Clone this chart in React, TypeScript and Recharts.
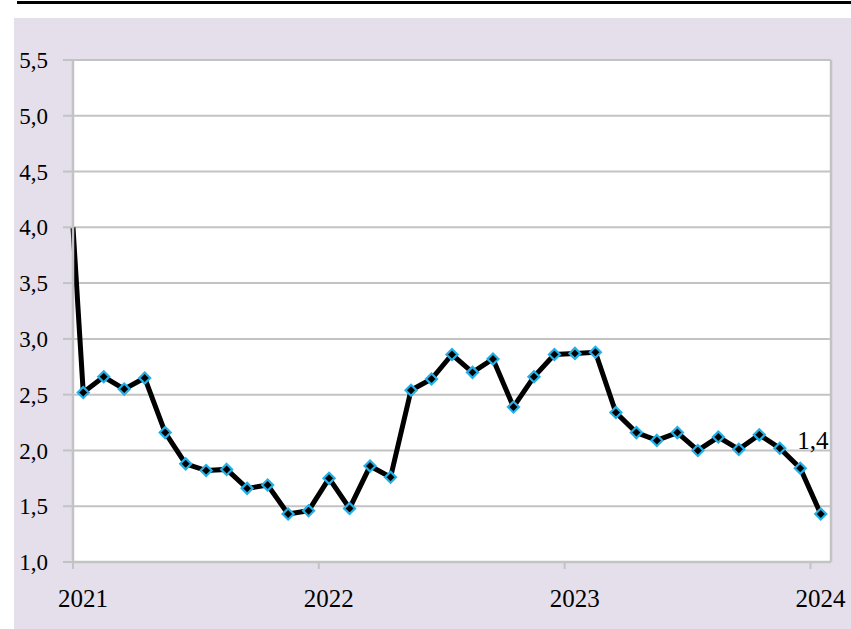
import React from 'react';
import { LineChart, Line, XAxis, YAxis, CartesianGrid, ReferenceLine } from 'recharts';

// monthly values, Jan 2021 .. Jan 2024 (one marker per month)
const startValue = 4.0;
const values = [
  2.52, 2.66, 2.55, 2.65, 2.16, 1.88, 1.82, 1.83, 1.66, 1.69, 1.43, 1.46,
  1.75, 1.48, 1.86, 1.76, 2.54, 2.64, 2.86, 2.70, 2.82, 2.39, 2.66, 2.86,
  2.87, 2.88, 2.34, 2.16, 2.09, 2.16, 2.00, 2.12, 2.01, 2.14, 2.02, 1.84,
  1.43,
];
const years = ['2021', '2022', '2023', '2024'];
const yearTicks = [0, 12, 24, 36];
const yTicks = [1, 1.5, 2, 2.5, 3, 3.5, 4, 4.5, 5, 5.5];
const lastLabel = '1,4';

const data = [
  { t: 0, v: startValue },
  ...values.map((v, i) => ({ t: i + 0.5, v })),
];

const FONT = '"Liberation Serif", "Times New Roman", serif';
const GRID = '#c3c3c3';

const Diamond = (props: any) => {
  const { cx, cy, index } = props;
  if (index === 0 || cx == null) return <g key={`d-${index}`} />;
  const r = 5.5;
  return (
    <polygon
      key={`d-${index}`}
      points={`${cx},${cy - r} ${cx + r},${cy} ${cx},${cy + r} ${cx - r},${cy}`}
      fill="#000"
      stroke="#22b0e8"
      strokeWidth={2.2}
    />
  );
};

const YearTick = (props: any) => {
  const { x, y, payload } = props;
  const i = yearTicks.indexOf(payload.value);
  return (
    <text x={x + 10} y={y} dy="0.8em" textAnchor="middle" fill="#000" fontSize={25} fontFamily={FONT}>
      {years[i]}
    </text>
  );
};

const EndLabel = (props: any) => {
  const { x, y, index } = props;
  if (index !== data.length - 1) return null;
  return (
    <text x={x - 8} y={y - 65} textAnchor="middle" fill="#000" fontSize={25} fontFamily={FONT}>
      {lastLabel}
    </text>
  );
};

export default function App() {
  return (
    <div style={{ position: 'absolute', left: 0, top: 0, width: 851, height: 629, background: '#fff' }}>
      <div style={{ position: 'absolute', left: 17, top: 1, width: 834, height: 3, background: '#000' }} />
      <div style={{ position: 'absolute', left: 14, top: 18, width: 837, height: 611, background: '#e4dfeb' }}>
        <LineChart width={837} height={611} data={data} margin={{ top: 42, right: 20, left: 0, bottom: 27 }}>
          <CartesianGrid vertical={false} stroke={GRID} strokeWidth={2} fill="#fff" />
          <XAxis
            dataKey="t"
            type="number"
            domain={[0, 37]}
            ticks={yearTicks}
            interval={0}
            height={40}
            tickSize={7}
            tickMargin={18}
            tick={<YearTick />}
            axisLine={{ stroke: GRID, strokeWidth: 2.5 }}
            tickLine={{ stroke: GRID, strokeWidth: 2 }}
          />
          <YAxis
            domain={[1, 5.5]}
            ticks={yTicks}
            interval={0}
            width={59}
            tickSize={10}
            tickMargin={15}
            tickFormatter={(v: number) => v.toFixed(1).replace('.', ',')}
            tick={{ fill: '#000', fontSize: 23, fontFamily: FONT }}
            axisLine={{ stroke: GRID, strokeWidth: 2.5 }}
            tickLine={{ stroke: GRID, strokeWidth: 2 }}
          />
          <ReferenceLine x={37} stroke={GRID} strokeWidth={2.5} />
          <Line
            type="linear"
            dataKey="v"
            stroke="#000"
            strokeWidth={5}
            dot={Diamond}
            activeDot={false}
            label={EndLabel}
            isAnimationActive={false}
          />
        </LineChart>
      </div>
    </div>
  );
}
